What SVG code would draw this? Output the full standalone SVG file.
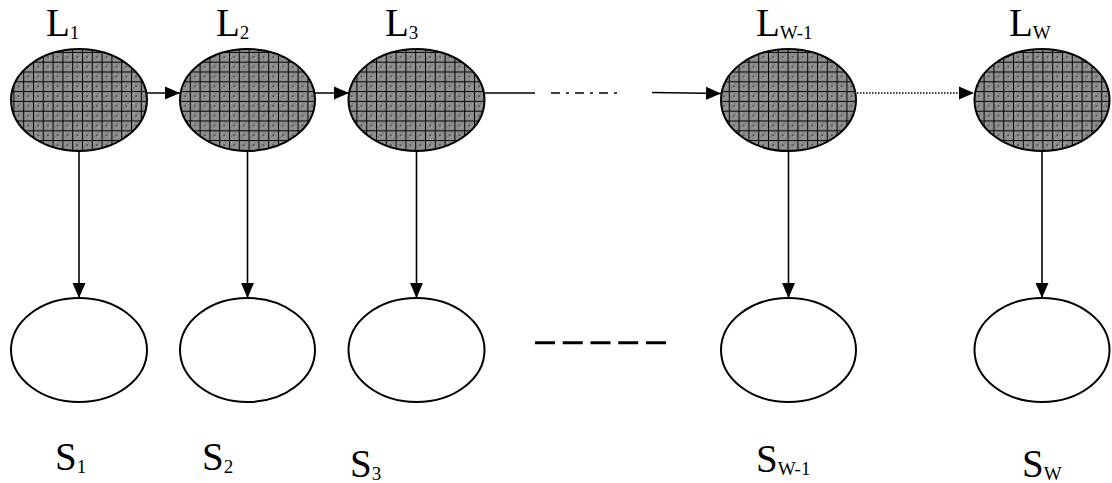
<svg xmlns="http://www.w3.org/2000/svg" width="1112" height="483" viewBox="0 0 1112 483">
<defs>
<pattern id="grid" patternUnits="userSpaceOnUse" x="3.6" y="2.9" width="9.8" height="9.8">
<rect width="9.8" height="9.8" fill="#8e8e8e"/>
<rect x="2" y="2" width="1" height="1" fill="#b0b0b0"/>
<rect x="6" y="6" width="1" height="1" fill="#b0b0b0"/>
<rect x="6" y="2" width="1" height="1" fill="#6a6a6a"/>
<rect x="2" y="6" width="1" height="1" fill="#6a6a6a"/>
<rect x="4.4" y="4.4" width="1.2" height="1.2" fill="#000"/>
<path d="M0.5,0 V9.8 M0,0.5 H9.8" stroke="#000" stroke-width="1"/>
</pattern>
<marker id="ah" markerUnits="userSpaceOnUse" markerWidth="15" markerHeight="14" refX="15" refY="7" orient="auto">
<path d="M0,0.5 L15,7 L0,13.5 z" fill="#000"/>
</marker>
<style>
.lat{fill:url(#grid);stroke:#000;stroke-width:2}
.obs{fill:#fff;stroke:#000;stroke-width:2}
.lbl{font-family:"Liberation Serif","Times New Roman",serif;font-size:39px;fill:#000}
.sub{font-size:19px}
.ln{stroke:#000;stroke-width:1.6;fill:none}
</style>
</defs>
<g id="L1"><ellipse class="lat" cx="79" cy="100" rx="68" ry="51"/><text class="lbl" x="46" y="36">L<tspan class="sub" dy="3">1</tspan></text></g>
<g id="L2"><ellipse class="lat" cx="247.5" cy="100" rx="67.5" ry="51"/><text class="lbl" x="216" y="36">L<tspan class="sub" dy="3">2</tspan></text></g>
<g id="L3"><ellipse class="lat" cx="416.5" cy="100" rx="68" ry="51"/><text class="lbl" x="385" y="36">L<tspan class="sub" dy="3">3</tspan></text></g>
<g id="LW1"><ellipse class="lat" cx="788.5" cy="100" rx="67.5" ry="51"/><text class="lbl" x="756" y="36">L<tspan class="sub" dy="3">W-1</tspan></text></g>
<g id="LW"><ellipse class="lat" cx="1042" cy="100" rx="67.5" ry="51"/><text class="lbl" x="1009" y="36">L<tspan class="sub" dy="3">W</tspan></text></g>
<g id="S1"><ellipse class="obs" cx="79" cy="350" rx="68" ry="52"/><text class="lbl" x="55" y="470">S<tspan class="sub" dy="3">1</tspan></text></g>
<g id="S2"><ellipse class="obs" cx="247.5" cy="350" rx="67.5" ry="52"/><text class="lbl" x="202" y="470">S<tspan class="sub" dy="3">2</tspan></text></g>
<g id="S3"><ellipse class="obs" cx="416.5" cy="350" rx="68" ry="52"/><text class="lbl" x="350" y="477">S<tspan class="sub" dy="3">3</tspan></text></g>
<g id="SW1"><ellipse class="obs" cx="788.5" cy="350" rx="67.5" ry="52"/><text class="lbl" x="756" y="472">S<tspan class="sub" dy="3">W-1</tspan></text></g>
<g id="SW"><ellipse class="obs" cx="1042" cy="350" rx="67.5" ry="52"/><text class="lbl" x="1022" y="477">S<tspan class="sub" dy="3">W</tspan></text></g>
<g id="connectors">
<line class="ln" x1="147" y1="93" x2="180" y2="93" marker-end="url(#ah)"/>
<line class="ln" x1="315" y1="93" x2="349" y2="93" marker-end="url(#ah)"/>
<line class="ln" x1="485" y1="93" x2="535" y2="93"/>
<line class="ln" x1="551" y1="93" x2="622" y2="93" stroke-dasharray="9,6,3,6"/>
<line class="ln" x1="652" y1="92.5" x2="721" y2="93.5" marker-end="url(#ah)"/>
<line class="ln" x1="857" y1="93" x2="974" y2="93" stroke-width="1.3" stroke-dasharray="1.5,1.5" marker-end="url(#ah)"/>
<line class="ln" x1="79" y1="151" x2="79" y2="298" marker-end="url(#ah)"/>
<line class="ln" x1="247.5" y1="151" x2="247.5" y2="298" marker-end="url(#ah)"/>
<line class="ln" x1="416.5" y1="151" x2="416.5" y2="298" marker-end="url(#ah)"/>
<line class="ln" x1="788.5" y1="151" x2="788.5" y2="298" marker-end="url(#ah)"/>
<line class="ln" x1="1042" y1="151" x2="1042" y2="298" marker-end="url(#ah)"/>
<line x1="535" y1="342.7" x2="666" y2="342.7" stroke="#000" stroke-width="3" stroke-dasharray="20,7.75"/>
</g>
</svg>
